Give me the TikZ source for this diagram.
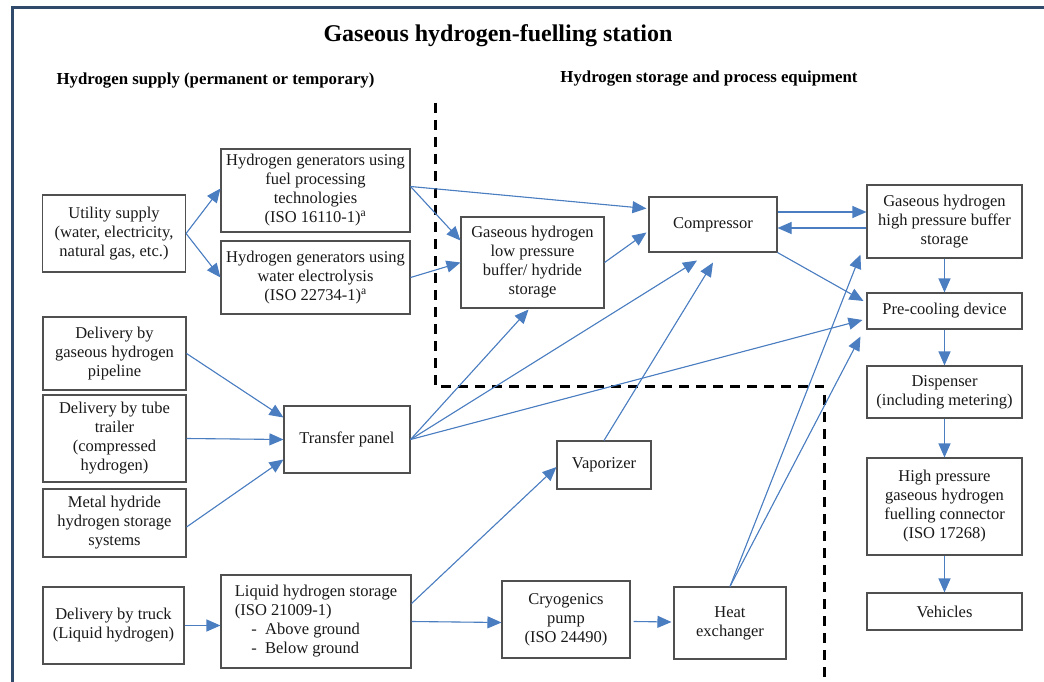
\documentclass[tikz,border=0pt]{standalone}
\usepackage{fontspec}
\setmainfont{Liberation Serif}
\usetikzlibrary{arrows.meta,calc}
\definecolor{arrblue}{RGB}{74,126,193}
\definecolor{framecol}{RGB}{47,74,107}
\definecolor{boxline}{RGB}{80,80,80}
\definecolor{txt}{RGB}{25,25,25}
\begin{document}
\begin{tikzpicture}[x=1pt,y=-1pt,
  bx/.style={draw=boxline,line width=1.1pt,align=center,inner sep=0pt,text=txt,
    font=\fontsize{16.5}{19}\selectfont},
  arr/.style={draw=arrblue,fill=arrblue,line width=1.1pt,-{Triangle[length=14pt,width=12pt]}},
  sep/.style={draw=black,line width=3pt,dash pattern=on 10pt off 7pt},
  hd/.style={font=\bfseries\fontsize{16.8}{19}\selectfont,text=black,inner sep=0pt}]
\useasboundingbox (0,0) rectangle (1044,682);
\fill[white] (0,0) rectangle (1044,682);
% frame
\draw[framecol,line width=3pt] (12,682) -- (12,8) -- (1044,8);
% titles
\node[font=\bfseries\fontsize{24}{27}\selectfont,inner sep=0pt] (title) at (498,36) {Gaseous hydrogen-fuelling station};
\node[hd] (h1) at (215.5,81) {Hydrogen supply (permanent or temporary)};
\node[hd] (h2) at (709,79) {Hydrogen storage and process equipment};
% separator
\coordinate (s1) at (435,103);
\coordinate (s2) at (435,386);
\coordinate (s3) at (824,386);
\coordinate (s4) at (824,395);
\coordinate (s5) at (824,682);
\draw[sep] (s1) -- (s2) -- (s3);
\draw[sep] (s4) -- (s5);
% boxes
\node[bx,minimum width=143pt,minimum height=77pt] (util) at (114,233.5) {Utility supply\\(water, electricity,\\natural gas, etc.)};
\node[bx,minimum width=189pt,minimum height=83pt] (gen1) at (315.5,190.5) {Hydrogen generators using\\fuel processing\\technologies\\(ISO 16110-1)\textsuperscript{a}};
\node[bx,minimum width=189pt,minimum height=73pt] (gen2) at (315.5,277.5) {Hydrogen generators using\\water electrolysis\\(ISO 22734-1)\textsuperscript{a}};
\node[bx,minimum width=143pt,minimum height=91pt] (lp) at (532.5,262.5) {Gaseous hydrogen\\low pressure\\buffer/ hydride\\storage};
\node[bx,minimum width=128pt,minimum height=55pt] (comp) at (713,224.5) {Compressor};
\node[bx,minimum width=155pt,minimum height=73pt] (hp) at (944.5,221.5) {Gaseous hydrogen\\high pressure buffer\\storage};
\node[bx,minimum width=155pt,minimum height=36pt] (pre) at (944.5,311) {Pre-cooling device};
\node[bx,minimum width=155pt,minimum height=52pt] (disp) at (944.5,392) {Dispenser\\(including metering)};
\node[bx,minimum width=155pt,minimum height=97pt] (conn) at (944.5,506.5) {High pressure\\gaseous hydrogen\\fuelling connector\\(ISO 17268)};
\node[bx,minimum width=155pt,minimum height=37pt] (veh) at (944.5,611.5) {Vehicles};
\node[bx,minimum width=143pt,minimum height=73pt] (pipe) at (114.5,353.5) {Delivery by\\gaseous hydrogen\\pipeline};
\node[bx,minimum width=143pt,minimum height=87pt] (tube) at (114.5,438.5) {Delivery by tube\\trailer\\(compressed\\hydrogen)};
\node[bx,minimum width=143pt,minimum height=68pt] (metal) at (114.5,523) {Metal hydride\\hydrogen storage\\systems};
\node[bx,minimum width=126pt,minimum height=67pt] (tp) at (347,439.5) {Transfer panel};
\node[bx,minimum width=94pt,minimum height=48pt] (vap) at (604,465) {Vaporizer};
\node[bx,minimum width=141pt,minimum height=77pt] (truck) at (113.5,625.5) {Delivery by truck\\(Liquid hydrogen)};
\node[bx,minimum width=190pt,minimum height=93pt,align=left] (liq) at (316,621.5) {Liquid hydrogen storage\\(ISO 21009-1)\\\hspace{1em}-\hspace{0.5em}Above ground\\\hspace{1em}-\hspace{0.5em}Below ground};
\node[bx,minimum width=128pt,minimum height=77pt] (cryo) at (566,619.5) {Cryogenics\\pump\\(ISO 24490)};
\node[bx,minimum width=112pt,minimum height=72pt] (he) at (730,623) {Heat\\exchanger};
% connectors
\draw[arr] (util.east) -- ($(gen1.west)+(0,-2)$);
\draw[arr] (util.east) -- (gen2.west);
\draw[arr] ($(gen1.east)+(0,-4)$) -- ($(comp.west)+(-2,-16)$);
\draw[arr] ($(gen1.east)+(0,-4)$) -- ($(lp.west)+(0,-22)$);
\draw[arr] (gen2.east) -- (lp.west);
\draw[arr] (lp.east) -- ($(comp.west)+(-2,8)$);
\draw[arr] ($(comp.east)+(0,-12.5)$) -- ($(hp.west)+(0,-9.5)$);
\draw[arr] ($(hp.west)+(0,6.5)$) -- ($(comp.east)+(0,3.5)$);
\draw[arr] (comp.south east) -- ($(pre.west)+(-3,-10)$);
\draw[arr] (tp.east) -- ($(lp.south)+(-4,1)$);
\draw[arr] (tp.east) -- ($(comp.south)+(-16,8)$);
\draw[arr] (tp.east) -- ($(pre.west)+(-4,9)$);
\draw[arr] (vap.north) -- ($(comp.south)+(0,10)$);
\draw[arr] (he.north) -- ($(hp.south west)+(-6,-4)$);
\draw[arr] (he.north) -- ($(pre.south west)+(-6,7)$);
\draw[arr] (pipe.east) -- ($(tp.west)+(0,-22)$);
\draw[arr] (tube.east) -- (tp.west);
\draw[arr] ($(metal.east)+(0,4)$) -- ($(tp.west)+(0,20)$);
\draw[arr] ($(liq.east)+(0,-18)$) -- ($(vap.west)+(0,2)$);
\draw[arr] (liq.east) -- ($(cryo.west)+(0,3)$);
\draw[arr] ($(cryo.east)+(3,2)$) -- ($(he.west)+(-2,-1)$);
\draw[arr] (truck.east) -- (truck.east -| liq.west);
\draw[arr] (hp.south) -- (pre.north);
\draw[arr] (pre.south) -- (disp.north);
\draw[arr] (disp.south) -- (conn.north);
\draw[arr] (conn.south) -- (veh.north);
\end{tikzpicture}
\end{document}
